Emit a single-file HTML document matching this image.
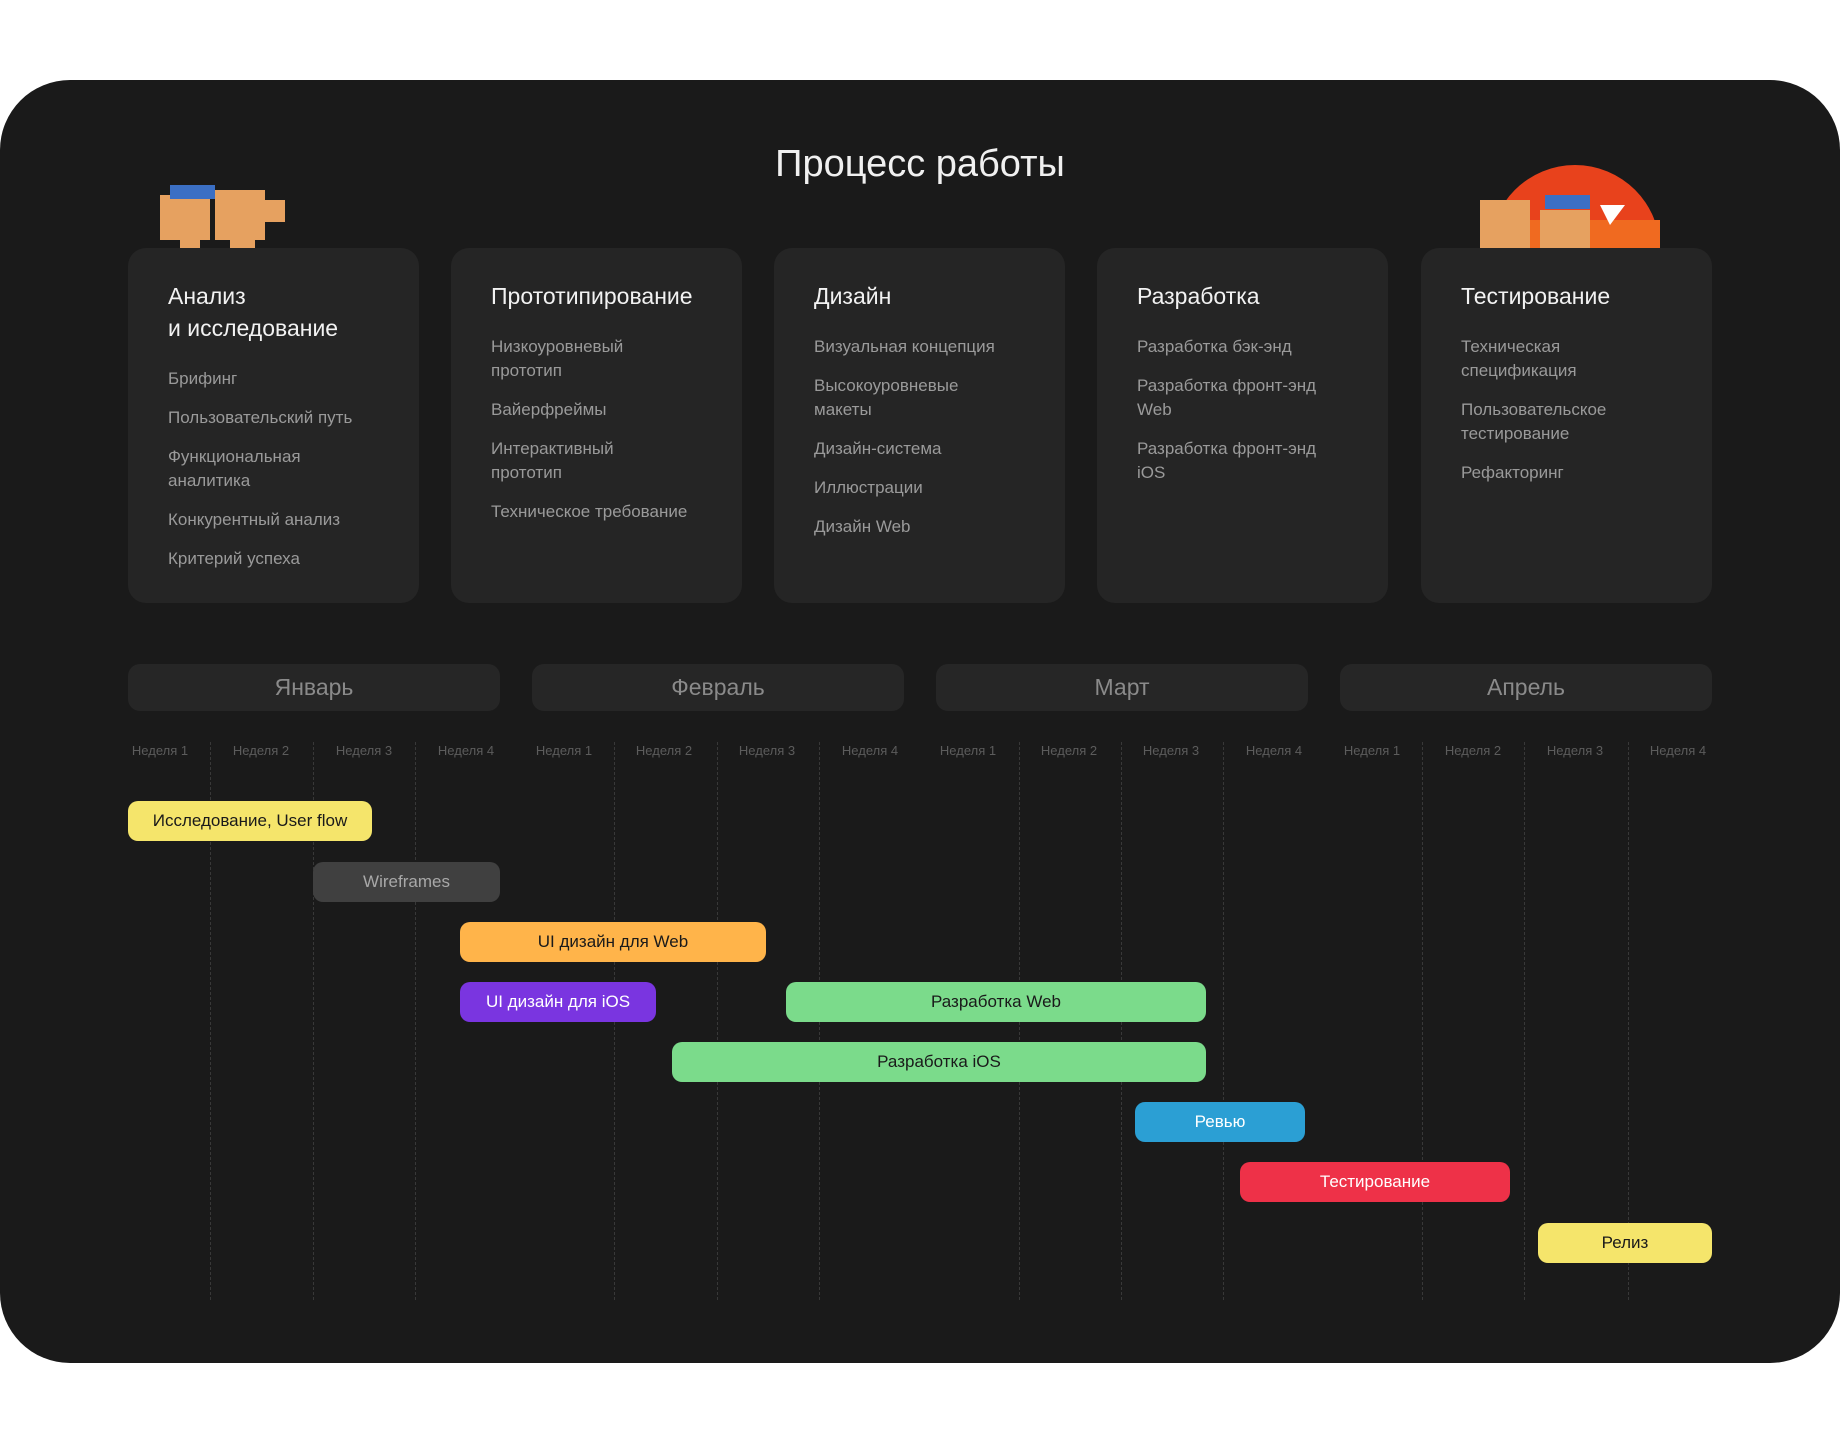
<!DOCTYPE html>
<html><head><meta charset="utf-8"><style>
*{margin:0;padding:0;box-sizing:border-box}
body{width:1840px;height:1443px;background:#fff;position:relative;overflow:hidden;font-family:"Liberation Sans","DejaVu Sans",sans-serif}
.bg{position:absolute;left:0;top:80px;width:1840px;height:1283px;background:#1a1a1a;border-radius:70px}
.title{position:absolute;left:0;width:1840px;top:140px;text-align:center;color:#f0f0f0;font-size:38px;line-height:48px}
.card{position:absolute;top:248px;width:291px;height:355px;background:#252525;border-radius:18px;padding:32px 20px 0 40px}
.card h3{font-weight:normal;color:#f2f2f2;font-size:23px;line-height:32px;margin-bottom:23px}
.card p{color:#9a9a9a;font-size:17px;line-height:24px;margin-bottom:15px}
.month{position:absolute;top:664px;height:47px;width:372px;background:#262626;border-radius:12px;color:#8a8a8a;font-size:23px;line-height:47px;text-align:center}
.wk{position:absolute;top:743px;width:100px;margin-left:-50px;text-align:center;color:#5c5c5c;font-size:13px}
.ln{position:absolute;top:742px;height:558px;border-left:1px dashed #383838}
.bar{position:absolute;height:40px;border-radius:10px;text-align:center;line-height:40px;font-size:17px;color:#1a1a1a}
</style></head><body>
<div class="bg"></div>
<div class="title">Процесс работы</div>

<svg style="position:absolute;left:0;top:0" width="1840" height="260">
<defs><clipPath id="c"><rect x="1480" y="150" width="200" height="98"/></clipPath></defs>
<circle cx="1575" cy="250" r="85" fill="#e8421c" clip-path="url(#c)"/>
<rect x="1490" y="220" width="170" height="28" fill="#f06a20"/>
<polygon points="1600,205 1625,205 1610,225" fill="#fff"/>
<g fill="#e6a160">
<rect x="160" y="195" width="50" height="45"/><rect x="215" y="190" width="50" height="50"/>
<rect x="265" y="200" width="20" height="22"/><rect x="180" y="240" width="20" height="15"/><rect x="230" y="240" width="25" height="15"/>
<rect x="1480" y="200" width="50" height="50"/><rect x="1540" y="210" width="50" height="40"/>
</g>
<rect x="170" y="185" width="45" height="14" fill="#3b6fc4"/>
<rect x="1545" y="195" width="45" height="14" fill="#3b6fc4"/>
</svg>

<div class="card" style="left:128px"><h3>Анализ<br>и исследование</h3><p>Брифинг</p><p>Пользовательский путь</p><p>Функциональная<br>аналитика</p><p>Конкурентный анализ</p><p>Критерий успеха</p></div>
<div class="card" style="left:451px"><h3>Прототипирование</h3><p>Низкоуровневый<br>прототип</p><p>Вайерфреймы</p><p>Интерактивный<br>прототип</p><p>Техническое требование</p></div>
<div class="card" style="left:774px"><h3>Дизайн</h3><p>Визуальная концепция</p><p>Высокоуровневые<br>макеты</p><p>Дизайн-система</p><p>Иллюстрации</p><p>Дизайн Web</p></div>
<div class="card" style="left:1097px"><h3>Разработка</h3><p>Разработка бэк-энд</p><p>Разработка фронт-энд<br>Web</p><p>Разработка фронт-энд<br>iOS</p></div>
<div class="card" style="left:1421px"><h3>Тестирование</h3><p>Техническая<br>спецификация</p><p>Пользовательское<br>тестирование</p><p>Рефакторинг</p></div>

<div class="month" style="left:128px">Январь</div>
<div class="month" style="left:532px">Февраль</div>
<div class="month" style="left:936px">Март</div>
<div class="month" style="left:1340px">Апрель</div>

<div class="wk" style="left:160px">Неделя 1</div><div class="wk" style="left:261px">Неделя 2</div><div class="wk" style="left:364px">Неделя 3</div><div class="wk" style="left:466px">Неделя 4</div>
<div class="wk" style="left:564px">Неделя 1</div><div class="wk" style="left:664px">Неделя 2</div><div class="wk" style="left:767px">Неделя 3</div><div class="wk" style="left:870px">Неделя 4</div>
<div class="wk" style="left:968px">Неделя 1</div><div class="wk" style="left:1069px">Неделя 2</div><div class="wk" style="left:1171px">Неделя 3</div><div class="wk" style="left:1274px">Неделя 4</div>
<div class="wk" style="left:1372px">Неделя 1</div><div class="wk" style="left:1473px">Неделя 2</div><div class="wk" style="left:1575px">Неделя 3</div><div class="wk" style="left:1678px">Неделя 4</div>

<div class="ln" style="left:210px"></div><div class="ln" style="left:313px"></div><div class="ln" style="left:415px"></div>
<div class="ln" style="left:614px"></div><div class="ln" style="left:717px"></div><div class="ln" style="left:819px"></div>
<div class="ln" style="left:1019px"></div><div class="ln" style="left:1121px"></div><div class="ln" style="left:1223px"></div>
<div class="ln" style="left:1422px"></div><div class="ln" style="left:1524px"></div><div class="ln" style="left:1628px"></div>

<div class="bar" style="left:128px;top:801px;width:244px;background:#f5e56b">Исследование, User flow</div>
<div class="bar" style="left:313px;top:862px;width:187px;background:#404040;color:#a8a8a8">Wireframes</div>
<div class="bar" style="left:460px;top:922px;width:306px;background:#ffb44a">UI дизайн для Web</div>
<div class="bar" style="left:460px;top:982px;width:196px;background:#7a35e0;color:#fff">UI дизайн для iOS</div>
<div class="bar" style="left:786px;top:982px;width:420px;background:#7bdb8b">Разработка Web</div>
<div class="bar" style="left:672px;top:1042px;width:534px;background:#7bdb8b">Разработка iOS</div>
<div class="bar" style="left:1135px;top:1102px;width:170px;background:#2b9fd4;color:#fff">Ревью</div>
<div class="bar" style="left:1240px;top:1162px;width:270px;background:#ee3148;color:#fff">Тестирование</div>
<div class="bar" style="left:1538px;top:1223px;width:174px;background:#f5e56b">Релиз</div>
</body></html>
